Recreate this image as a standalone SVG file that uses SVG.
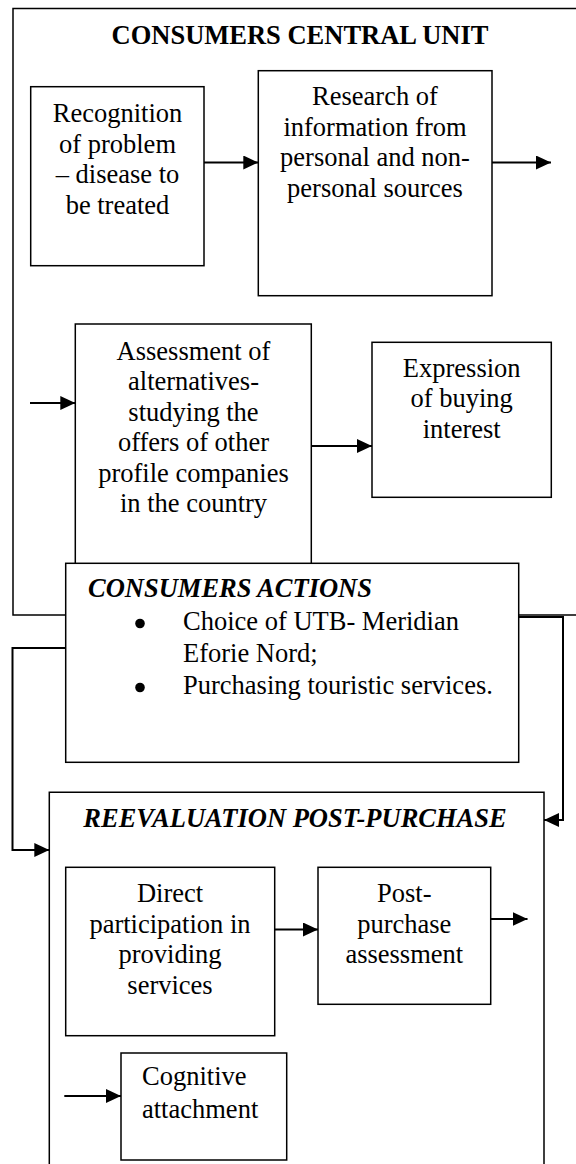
<svg xmlns="http://www.w3.org/2000/svg" width="576" height="1164" viewBox="0 0 576 1164">
<style>
  .box { fill: #ffffff; stroke: #000000; stroke-width: 1.5; }
  .frame { fill: none; stroke: #000000; stroke-width: 1.5; }
  .t { font-family: "Liberation Serif", "Times New Roman", serif; font-size: 26.5px; fill: #000000; }
  .c { text-anchor: middle; }
  .b { font-weight: bold; }
  .bi { font-weight: bold; font-style: italic; }
  .bul { fill: #000000; }
  .conn { fill: none; stroke: #000000; stroke-width: 2; }
</style>
<defs>
  <marker id="arr" markerUnits="userSpaceOnUse" markerWidth="16" markerHeight="16" refX="15" refY="7" orient="auto">
    <path d="M0,0 L15,7 L0,14 z" fill="#000000"/>
  </marker>
</defs>
<rect width="576" height="1164" fill="#ffffff"/>

<g id="central-unit">
  <rect class="frame" x="13" y="8.5" width="580" height="606.5"/>
  <text class="t b c" x="300" y="43.5">CONSUMERS CENTRAL UNIT</text>
</g>

<g id="recognition">
  <rect class="box" x="30.7" y="86.7" width="173.3" height="179"/>
  <text class="t c" x="117.5" y="122">Recognition</text>
  <text class="t c" x="117.5" y="152.5">of problem</text>
  <text class="t c" x="117.5" y="183">– disease to</text>
  <text class="t c" x="117.5" y="213.5">be treated</text>
</g>

<g id="research">
  <rect class="box" x="258.3" y="70.7" width="233.7" height="225"/>
  <text class="t c" x="375" y="105">Research of</text>
  <text class="t c" x="375" y="135.5">information from</text>
  <text class="t c" x="375" y="166">personal and non-</text>
  <text class="t c" x="375" y="196.5">personal sources</text>
</g>

<g id="assessment">
  <rect class="box" x="75.3" y="324" width="236" height="260"/>
  <text class="t c" x="193.5" y="359.5">Assessment of</text>
  <text class="t c" x="193.5" y="390">alternatives-</text>
  <text class="t c" x="193.5" y="420.5">studying the</text>
  <text class="t c" x="193.5" y="451">offers of other</text>
  <text class="t c" x="193.5" y="481.5">profile companies</text>
  <text class="t c" x="193.5" y="512">in the country</text>
</g>

<g id="expression">
  <rect class="box" x="372" y="342.3" width="179.3" height="155"/>
  <text class="t c" x="461.7" y="376.5">Expression</text>
  <text class="t c" x="461.7" y="407">of buying</text>
  <text class="t c" x="461.7" y="437.5">interest</text>
</g>

<g id="consumers-actions">
  <rect class="box" x="65.7" y="563.3" width="453" height="199"/>
  <text class="t bi" x="88" y="597">CONSUMERS ACTIONS</text>
  <circle class="bul" cx="140" cy="623.5" r="4.8"/>
  <text class="t" x="183" y="630">Choice of UTB- Meridian</text>
  <text class="t" x="183" y="662">Eforie Nord;</text>
  <circle class="bul" cx="140" cy="687.5" r="4.8"/>
  <text class="t" x="183" y="693.5">Purchasing touristic services.</text>
</g>

<g id="reevaluation">
  <path class="frame" d="M49.3,1170 L49.3,792.3 L544,792.3 L544,1170"/>
  <text class="t bi c" x="295" y="826.7">REEVALUATION POST-PURCHASE</text>
</g>

<g id="direct-participation">
  <rect class="box" x="65.7" y="867.3" width="209" height="168.4"/>
  <text class="t c" x="170" y="901.5">Direct</text>
  <text class="t c" x="170" y="932.5">participation in</text>
  <text class="t c" x="170" y="963.3">providing</text>
  <text class="t c" x="170" y="994">services</text>
</g>

<g id="post-purchase">
  <rect class="box" x="318" y="867.3" width="172.7" height="137"/>
  <text class="t c" x="404.3" y="901.5">Post-</text>
  <text class="t c" x="404.3" y="932.5">purchase</text>
  <text class="t c" x="404.3" y="963.3">assessment</text>
</g>

<g id="cognitive">
  <rect class="box" x="121" y="1053" width="165.7" height="107"/>
  <text class="t" x="142" y="1085">Cognitive</text>
  <text class="t" x="142" y="1117.5">attachment</text>
</g>

<g id="connectors">
  <path class="conn" d="M204,162.5 L258.3,162.5" marker-end="url(#arr)"/>
  <path class="conn" d="M492,162.5 L551,162.5" marker-end="url(#arr)"/>
  <path class="conn" d="M30,403 L75.3,403" marker-end="url(#arr)"/>
  <path class="conn" d="M311.3,446 L372,446" marker-end="url(#arr)"/>
  <path class="conn" d="M518.7,617 L563,617 L563,820 L544,820" marker-end="url(#arr)"/>
  <path class="conn" d="M65.7,648 L12.5,648 L12.5,850 L49.3,850" marker-end="url(#arr)"/>
  <path class="conn" d="M274.7,929.5 L318,929.5" marker-end="url(#arr)"/>
  <path class="conn" d="M490.7,919 L527.5,919" marker-end="url(#arr)"/>
  <path class="conn" d="M64.3,1096 L121,1096" marker-end="url(#arr)"/>
</g>
</svg>
